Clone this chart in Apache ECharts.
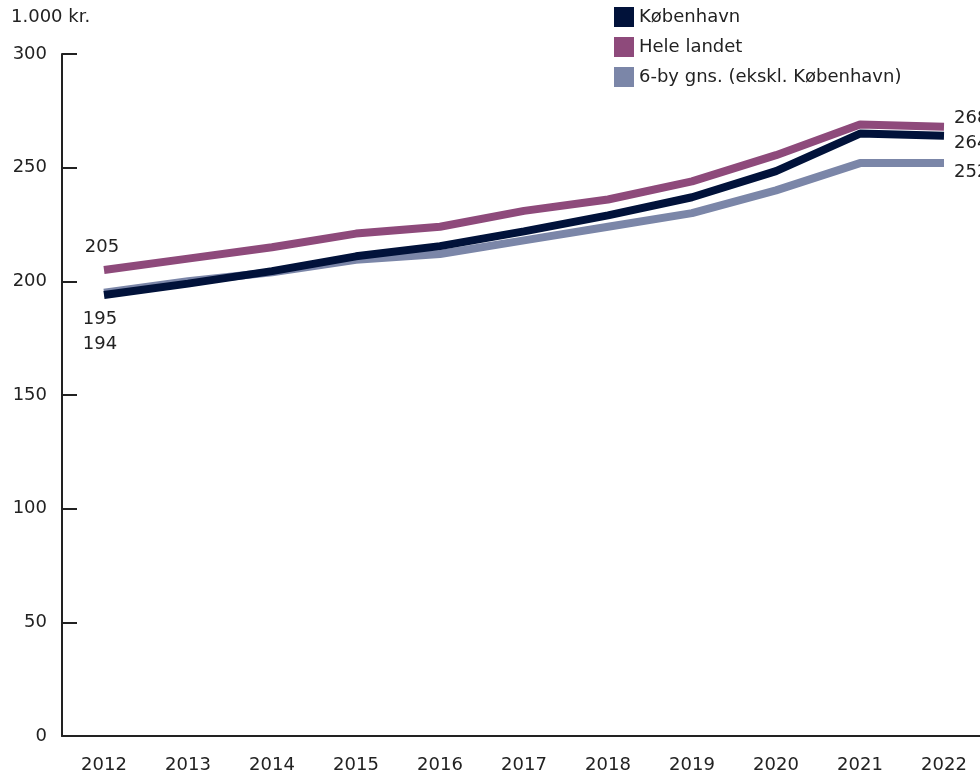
<!DOCTYPE html>
<html><head><meta charset="utf-8">
<script src="https://cdn.jsdelivr.net/npm/echarts@6/dist/echarts.min.js"></script>
<style>html,body{margin:0;padding:0;background:#fff;overflow:hidden}#c{width:990px;height:777px}</style>
</head><body><div id="c"></div>
<script>
const years = ['2012','2013','2014','2015','2016','2017','2018','2019','2020','2021','2022'];
const koebenhavn = [194,199,204.5,211,215.5,222,229,237,248.5,265,264];
const heleLandet = [205,210,215,221,224,231,236,244,255.5,269,268];
const seksBy = [195,200,204,209.5,212,218,224,230,240,252,252];
const yTicks = [0,50,100,150,200,250,300];

const font = '"DejaVu Sans", sans-serif';
const fs = 18;
const txt = '#222';
const lastIdx = years.length - 1;

function mk(arr, first, last) {
  return arr.map((v, i) => {
    if (i === 0 && first) return {value: v, label: Object.assign({show: true}, first)};
    if (i === lastIdx && last) return {value: v, label: Object.assign({show: true}, last)};
    return v;
  });
}
const lbl = {show: false, color: txt, fontSize: fs, fontFamily: font};

const chart = echarts.init(document.getElementById('c'));
chart.setOption({
  animation: false,
  textStyle: {fontFamily: font},
  graphic: [{type: 'text', left: 11, top: 8, style: {text: '1.000 kr.', fontSize: fs, fontFamily: font, fill: txt}}],
  legend: {
    orient: 'vertical', left: 609, top: 2, itemGap: 10, itemWidth: 20, itemHeight: 20,
    icon: 'rect', textStyle: {fontSize: fs, color: txt, fontFamily: font},
    data: ['København','Hele landet','6-by gns. (ekskl. København)']
  },
  grid: {left: 62, top: 54, width: 924, height: 682, containLabel: false},
  xAxis: {
    type: 'category', data: years, boundaryGap: true,
    axisLine: {lineStyle: {color: txt, width: 2}},
    axisTick: {inside: true, length: 16, lineStyle: {color: txt, width: 2}},
    axisLabel: {color: txt, fontSize: fs, margin: 20, fontFamily: font}
  },
  yAxis: {
    type: 'value', min: 0, max: 300, interval: 50,
    splitLine: {show: false},
    axisLine: {show: true, lineStyle: {color: txt, width: 2}},
    axisTick: {show: true, inside: true, length: 15, lineStyle: {color: txt, width: 2}},
    axisLabel: {color: txt, fontSize: fs, margin: 15, fontFamily: font,
      formatter: v => yTicks.includes(v) ? String(v) : ''}
  },
  series: [
    {name: '6-by gns. (ekskl. København)', type: 'line', symbol: 'circle', symbolSize: 0, z: 1,
     lineStyle: {width: 8, color: '#7b86a8'}, itemStyle: {color: '#7b86a8'},
     label: lbl,
     data: mk(seksBy, {position: 'bottom', distance: 18, offset: [-4, 0]}, {position: 'right', distance: 10, offset: [0, 9]})},
    {name: 'København', type: 'line', symbol: 'circle', symbolSize: 0, z: 2,
     lineStyle: {width: 8, color: '#01123a'}, itemStyle: {color: '#01123a'},
     label: lbl,
     data: mk(koebenhavn, {position: 'bottom', distance: 40, offset: [-4, 0]}, {position: 'right', distance: 10, offset: [0, 7]})},
    {name: 'Hele landet', type: 'line', symbol: 'circle', symbolSize: 0, z: 3,
     lineStyle: {width: 8, color: '#8e4a7b'}, itemStyle: {color: '#8e4a7b'},
     label: lbl,
     data: mk(heleLandet, {position: 'top', distance: 14, offset: [-2, 0]}, {position: 'right', distance: 10, offset: [0, -8]})}
  ]
});
</script></body></html>
